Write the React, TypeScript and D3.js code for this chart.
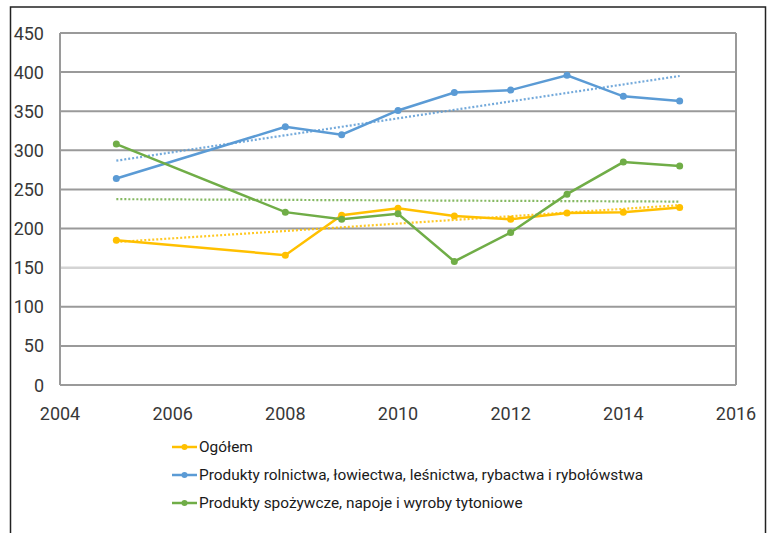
import React from "react";
import * as d3 from "d3";

const years = [2005, 2008, 2009, 2010, 2011, 2012, 2013, 2014, 2015];
const ogolem = [185, 166, 217, 226, 216, 212, 220, 221, 227];
const rolnictwo = [264, 330, 320, 351, 374, 377, 396, 369, 363];
const spozywcze = [308, 221, 212, 219, 158, 195, 244, 285, 280];

const seriesNames = [
  "Ogółem",
  "Produkty rolnictwa, łowiectwa, leśnictwa, rybactwa i rybołówstwa",
  "Produkty spożywcze, napoje i wyroby tytoniowe",
];
const seriesColors = ["#FFC000", "#5B9BD5", "#70AD47"];
const seriesValues = [ogolem, rolnictwo, spozywcze];

const yTicks = [0, 50, 100, 150, 200, 250, 300, 350, 400, 450];
const xTicks = [2004, 2006, 2008, 2010, 2012, 2014, 2016];

const W = 771;
const H = 533;
const FONT = "Roboto, 'Open Sans', sans-serif";

// Least-squares linear trend through a series
function linearTrend(xs: number[], ys: number[]) {
  const mx = d3.mean(xs) as number;
  const my = d3.mean(ys) as number;
  let num = 0;
  let den = 0;
  xs.forEach((x, i) => {
    num += (x - mx) * (ys[i] - my);
    den += (x - mx) * (x - mx);
  });
  const slope = num / den;
  return (x: number) => my + slope * (x - mx);
}

export default function App() {
  const x = d3.scaleLinear().domain([2004, 2016]).range([60, 736]);
  const y = d3.scaleLinear().domain([0, 450]).range([385, 33]);

  const line = d3
    .line<[number, number]>()
    .x((d) => x(d[0]))
    .y((d) => y(d[1]));

  const xMin = d3.min(years) as number;
  const xMax = d3.max(years) as number;

  // draw order: Ogółem first, then the two product series on top
  const order = [0, 1, 2];

  return (
    <svg
      width={W}
      height={H}
      style={{ position: "absolute", left: 0, top: 0, background: "#fff" }}
      fontFamily={FONT}
    >
      <rect x={10.5} y={7} width={755} height={H + 10} fill="#fff" stroke="#222" strokeWidth={1.5} />

      {/* grid */}
      {yTicks.map((t) => (
        <line
          key={t}
          x1={x(2004)}
          x2={x(2016)}
          y1={y(t)}
          y2={y(t)}
          stroke={t === 150 ? "#d4d4d4" : "#9a9a9a"}
          strokeWidth={t === 150 ? 2.5 : 2}
        />
      ))}
      <line x1={x(2004)} x2={x(2004)} y1={y(450)} y2={y(0)} stroke="#9a9a9a" strokeWidth={2} />
      <line x1={x(2016)} x2={x(2016)} y1={y(450)} y2={y(0)} stroke="#9a9a9a" strokeWidth={2} />

      {/* y labels */}
      {yTicks.map((t) => (
        <text
          key={t}
          x={44}
          y={y(t)}
          textAnchor="end"
          dominantBaseline="central"
          fontSize={18}
          fill="#383838"
        >
          {t}
        </text>
      ))}

      {/* x labels */}
      {xTicks.map((t) => (
        <text
          key={t}
          x={x(t)}
          y={413}
          textAnchor="middle"
          dominantBaseline="central"
          fontSize={18}
          fill="#383838"
        >
          {t}
        </text>
      ))}

      {/* trend lines */}
      {order.map((i) => {
        const f = linearTrend(years, seriesValues[i]);
        return (
          <line
            key={"trend" + i}
            x1={x(xMin)}
            x2={x(xMax)}
            y1={y(f(xMin))}
            y2={y(f(xMax))}
            stroke={seriesColors[i]}
            strokeWidth={2.2}
            strokeDasharray="2,2"
            opacity={0.85}
          />
        );
      })}

      {/* series */}
      {order.map((i) => {
        const pts = years.map((yr, j) => [yr, seriesValues[i][j]] as [number, number]);
        return (
          <g key={"s" + i}>
            <path d={line(pts) as string} fill="none" stroke={seriesColors[i]} strokeWidth={2.5} />
            {pts.map((p, j) => (
              <circle key={j} cx={x(p[0])} cy={y(p[1])} r={3.5} fill={seriesColors[i]} />
            ))}
          </g>
        );
      })}

      {/* legend */}
      {seriesNames.map((name, i) => {
        const cy = 447 + i * 28;
        return (
          <g key={"lg" + i}>
            <line x1={172} x2={197} y1={cy} y2={cy} stroke={seriesColors[i]} strokeWidth={2.5} />
            <circle cx={184.5} cy={cy} r={3} fill={seriesColors[i]} />
            <text x={199} y={cy} dominantBaseline="central" fontSize={15.4} fill="#1a1a1a">
              {name}
            </text>
          </g>
        );
      })}
    </svg>
  );
}
